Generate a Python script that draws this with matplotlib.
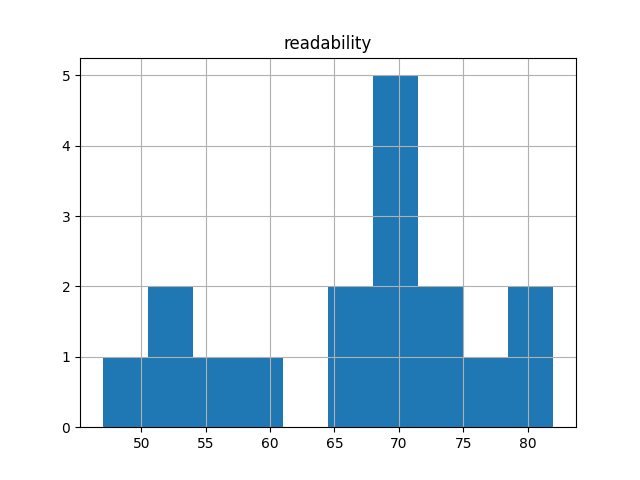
import pandas as pd
import matplotlib
matplotlib.use("Agg")
import matplotlib.pyplot as plt

# readability scores
readability = [47, 52, 53, 56, 59, 66, 67, 69, 69, 70, 70, 71, 73, 74, 77, 80, 82]

df = pd.DataFrame({"readability": readability})

fig, ax = plt.subplots(figsize=(6.4, 4.8), dpi=100)
df.hist(column="readability", bins=10, ax=ax)

plt.savefig("out.png")
